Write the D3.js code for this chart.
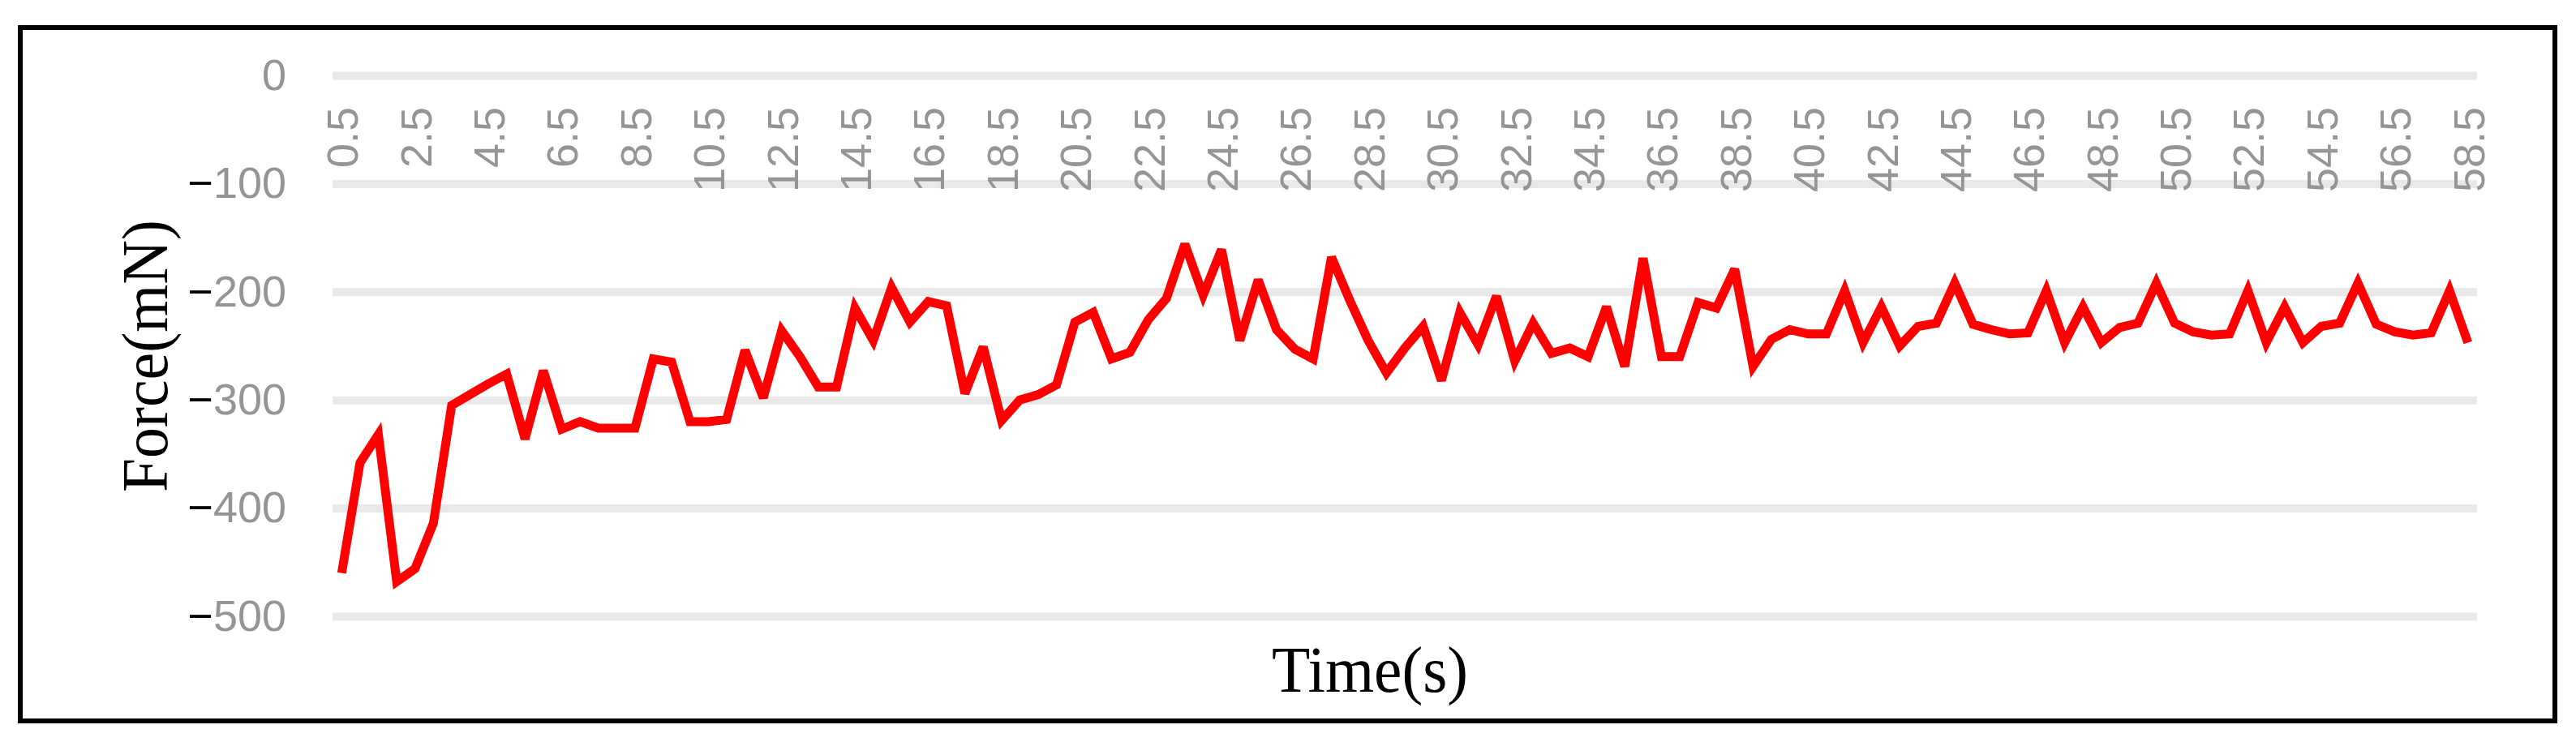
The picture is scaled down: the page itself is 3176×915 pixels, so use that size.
<!DOCTYPE html>
<html><head><meta charset="utf-8">
<script src="https://cdn.jsdelivr.net/npm/d3@7"></script>
<style>body{margin:0;background:#fff}</style>
</head><body><svg id="c" width="3176" height="915" xmlns="http://www.w3.org/2000/svg"></svg>
<script>
// Time categories (s)
const times = [0.5,1,1.5,2,2.5,3,3.5,4,4.5,5,5.5,6,6.5,7,7.5,8,8.5,9,9.5,10,
  10.5,11,11.5,12,12.5,13,13.5,14,14.5,15,15.5,16,16.5,17,17.5,18,18.5,19,19.5,20,
  20.5,21,21.5,22,22.5,23,23.5,24,24.5,25,25.5,26,26.5,27,27.5,28,28.5,29,29.5,30,
  30.5,31,31.5,32,32.5,33,33.5,34,34.5,35,35.5,36,36.5,37,37.5,38,38.5,39,39.5,40,
  40.5,41,41.5,42,42.5,43,43.5,44,44.5,45,45.5,46,46.5,47,47.5,48,48.5,49,49.5,50,
  50.5,51,51.5,52,52.5,53,53.5,54,54.5,55,55.5,56,56.5,57,57.5,58,58.5];
// Force (mN)
const forceValues = [-460,-358,-332,-468,-456,-414,-305,-295,-285,-276,
  -336,-273,-327,-320,-326,-326,-326,-262,-265,-320,
  -320,-318,-254,-298,-236,-260,-288,-288,-215,-245,
  -196,-228,-209,-213,-294,-251,-319,-300,-295,-286,
  -228,-219,-262,-256,-226,-206,-156,-203,-161,-245,
  -189,-235,-253,-262,-168,-208,-245,-275,-252,-232,
  -282,-219,-249,-204,-264,-229,-257,-252,-260,-214,
  -269,-169,-260,-260,-210,-215,-179,-269,-244,-235,
  -239,-239,-199,-247,-214,-250,-232,-229,-192,-230,
  -235,-239,-238,-199,-247,-214,-247,-233,-229,-192,
  -229,-237,-240,-239,-199,-247,-214,-247,-232,-229,
  -192,-230,-237,-240,-238,-199,-247];
// Axis tick labels
const xTickLabels = ["0.5","2.5","4.5","6.5","8.5","10.5","12.5","14.5","16.5","18.5",
  "20.5","22.5","24.5","26.5","28.5","30.5","32.5","34.5","36.5","38.5",
  "40.5","42.5","44.5","46.5","48.5","50.5","52.5","54.5","56.5","58.5"];
const yTickValues = [0,-100,-200,-300,-400,-500];
const xTitle = "Time(s)";
const yTitle = "Force(mN)";

const svg = d3.select("#c");
const L = 410, R = 3054, T = 93, B = 760;

svg.append("rect").attr("x",0).attr("y",0).attr("width",3176).attr("height",915).attr("fill","#fff");
svg.append("rect").attr("x",25).attr("y",34).attr("width",3125).attr("height",855)
  .attr("fill","none").attr("stroke","#000").attr("stroke-width",6);

const x = d3.scalePoint().domain(times).range([L,R]).padding(0.5);
const y = d3.scaleLinear().domain([-500,0]).range([B,T]);

// gridlines
const grid = svg.append("g").attr("transform",`translate(${L},0)`)
  .call(d3.axisLeft(y).tickValues(yTickValues).tickSize(-(R-L)).tickFormat(""));
grid.select(".domain").remove();
grid.selectAll("line").attr("stroke","#e9e9e9").attr("stroke-width",10);

// y axis labels
const ya = svg.append("g").attr("transform",`translate(${L},0)`)
  .call(d3.axisLeft(y).tickValues(yTickValues).tickSize(0).tickPadding(57));
ya.select(".domain").remove();
ya.selectAll("text").each(function(d){
  const t = d3.select(this).text("")
    .attr("font-family","'Liberation Sans', Arial, sans-serif").attr("font-size",54).attr("fill","#959595");
  if (d < 0) {
    t.append("tspan").attr("fill","#000").text("\u2212");
    t.append("tspan").text(String(Math.abs(d)));
  } else {
    t.append("tspan").text(String(d));
  }
});

// x axis labels (rotated, below the zero line)
const tickTimes = times.filter(t => xTickLabels.includes(String(t)));
const xa = svg.append("g").attr("transform",`translate(0,${T})`)
  .call(d3.axisBottom(x).tickValues(tickTimes).tickSize(0).tickFormat(d => String(d)));
xa.select(".domain").remove();
xa.selectAll("text")
  .attr("font-family","'Liberation Sans', Arial, sans-serif").attr("font-size",54).attr("fill","#959595")
  .attr("transform","rotate(-90)").attr("text-anchor","end")
  .attr("x",-39).attr("y",0).attr("dy","0.36em");

// line
const line = d3.line().x((d,i) => x(times[i])).y(d => y(d));
svg.append("path").datum(forceValues).attr("d",line)
  .attr("fill","none").attr("stroke","#ff0000").attr("stroke-width",11)
  .attr("stroke-linejoin","miter").attr("stroke-miterlimit",3).attr("stroke-linecap","butt");

// titles
svg.append("text").attr("x",1689).attr("y",853).attr("text-anchor","middle")
  .attr("font-family","'Liberation Serif', 'Times New Roman', serif").attr("font-size",80)
  .attr("textLength",242).attr("lengthAdjust","spacingAndGlyphs").attr("fill","#000").text(xTitle);
svg.append("text").attr("transform","translate(206,439) rotate(-90)").attr("text-anchor","middle")
  .attr("font-family","'Liberation Serif', 'Times New Roman', serif").attr("font-size",80)
  .attr("textLength",336).attr("lengthAdjust","spacingAndGlyphs").attr("fill","#000").text(yTitle);
</script></body></html>
